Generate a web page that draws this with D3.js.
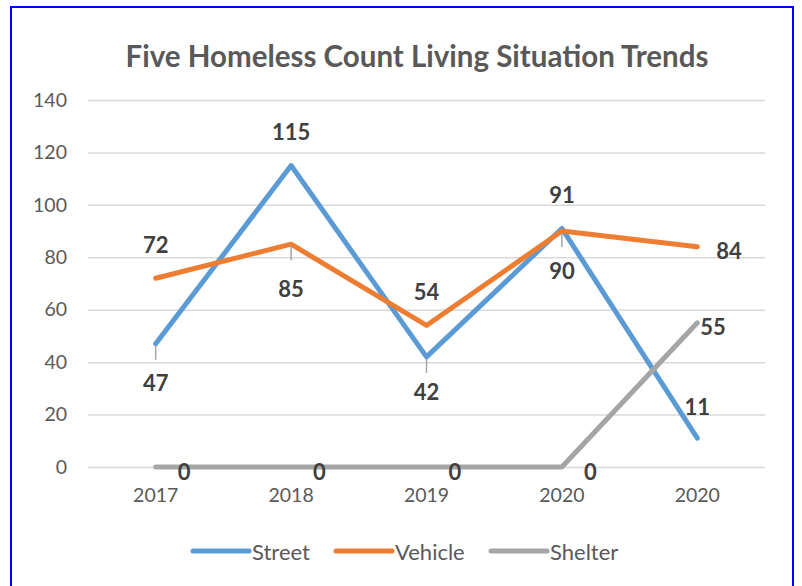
<!DOCTYPE html>
<html>
<head>
<meta charset="utf-8">
<script src="https://cdn.jsdelivr.net/npm/d3@7"></script>
<style>
  body { margin: 0; background: #fff; }
  svg { display: block; }
</style>
</head>
<body>
<div class="chart"></div>
<script>
// data
const years = ['2017', '2018', '2019', '2020', '2020'];
const street = [47, 115, 42, 91, 11];
const vehicle = [72, 85, 54, 90, 84];
const shelter = [0, 0, 0, 0, 55];
const yTicks = [0, 20, 40, 60, 80, 100, 120, 140];
const seriesNames = ['Street', 'Vehicle', 'Shelter'];

// where each data label sits relative to its point
const streetLabelPos = ['below', 'above', 'below', 'above', 'above'];
const vehicleLabelPos = ['above', 'below', 'above', 'below', 'right'];
const shelterLabelPos = ['right', 'right', 'right', 'right', 'right'];

const config = {
  width: 802,
  height: 586,
  left: 88,
  right: 765,
  top: 100,
  bottom: 467,
  colors: ['#5B9BD5', '#ED7D31', '#A5A5A5'],
  gridColor: '#D9D9D9',
  textColor: '#595959',
  labelColor: '#404040',
  font: 'Lato, "Open Sans", sans-serif'
};

const svg = d3.select('.chart').append('svg')
  .attr('width', config.width)
  .attr('height', config.height);

// blue frame
svg.append('rect')
  .attr('x', 11).attr('y', 7)
  .attr('width', 782).attr('height', 600)
  .attr('fill', 'none')
  .attr('stroke', '#0000FF')
  .attr('stroke-width', 2);

svg.append('text')
  .text('Five Homeless Count Living Situation Trends')
  .attr('x', 417).attr('y', 55)
  .attr('text-anchor', 'middle')
  .attr('dominant-baseline', 'central')
  .attr('font-family', config.font)
  .attr('font-weight', 'bold')
  .attr('font-size', '29.5px')
  .attr('fill', config.textColor);

const x = d3.scaleBand()
  .domain(d3.range(years.length))
  .range([config.left, config.right]);

const y = d3.scaleLinear()
  .domain([0, 140])
  .range([config.bottom, config.top]);

const xPos = (i) => x(i) + x.bandwidth() / 2;

// gridlines + y labels
const yAxis = svg.append('g')
  .attr('transform', `translate(${config.left},0)`)
  .call(d3.axisLeft(y).tickValues(yTicks).tickSize(-(config.right - config.left)).tickPadding(21));
yAxis.select('.domain').remove();
yAxis.selectAll('line').attr('stroke', config.gridColor).attr('stroke-width', 1.5);
yAxis.selectAll('text')
  .attr('font-family', config.font)
  .attr('font-size', '19.5px')
  .attr('fill', config.textColor);

// x labels
const xAxis = svg.append('g')
  .attr('transform', `translate(0,${config.bottom})`)
  .call(d3.axisBottom(x).tickFormat((i) => years[i]).tickSize(0).tickPadding(21));
xAxis.select('.domain').remove();
xAxis.selectAll('text')
  .attr('font-family', config.font)
  .attr('font-size', '19.5px')
  .attr('fill', config.textColor);

const series = [
  { name: seriesNames[0], values: street, pos: streetLabelPos, color: config.colors[0] },
  { name: seriesNames[1], values: vehicle, pos: vehicleLabelPos, color: config.colors[1] },
  { name: seriesNames[2], values: shelter, pos: shelterLabelPos, color: config.colors[2] }
];

const line = d3.line()
  .x((d, i) => xPos(i))
  .y((d) => y(d));

svg.append('g').selectAll('path')
  .data(series)
  .enter().append('path')
  .attr('d', (d) => line(d.values))
  .attr('fill', 'none')
  .attr('stroke', (d) => d.color)
  .attr('stroke-width', 5)
  .attr('stroke-linecap', 'round')
  .attr('stroke-linejoin', 'round');

// data labels
const labelData = [];
series.forEach((s) => {
  s.values.forEach((v, i) => {
    labelData.push({ value: v, x: xPos(i), y: y(v), pos: s.pos[i], shelter: s.name === 'Shelter' });
  });
});

const labels = svg.append('g');

labels.selectAll('line')
  .data(labelData.filter((d) => d.pos === 'below'))
  .enter().append('line')
  .attr('x1', (d) => d.x).attr('x2', (d) => d.x)
  .attr('y1', (d) => d.y + 2).attr('y2', (d) => d.y + 16)
  .attr('stroke', '#A6A6A6')
  .attr('stroke-width', 1.5);

labels.selectAll('text')
  .data(labelData)
  .enter().append('text')
  .text((d) => d.value)
  .attr('x', (d) => {
    if (d.pos === 'right') return d.shelter && d.value === 0 ? d.x + 22 : d.x + (d.shelter ? 3 : 19);
    return d.x;
  })
  .attr('y', (d) => {
    if (d.pos === 'above') return d.y - (d.value === 11 ? 32 : 34);
    if (d.pos === 'below') return d.y + (d.value === 85 ? 44 : d.value === 42 ? 35 : 39);
    return d.y + 4;
  })
  .attr('text-anchor', (d) => d.pos === 'right' ? 'start' : 'middle')
  .attr('dominant-baseline', 'central')
  .attr('font-family', config.font)
  .attr('font-weight', 'bold')
  .attr('font-size', '22px')
  .attr('fill', config.labelColor);

// legend
const legendX = [193, 336, 491];
const legend = svg.append('g').selectAll('g')
  .data(series)
  .enter().append('g')
  .attr('transform', (d, i) => `translate(${legendX[i]},551)`);
legend.append('line')
  .attr('x1', 0).attr('x2', 56)
  .attr('stroke', (d) => d.color)
  .attr('stroke-width', 5)
  .attr('stroke-linecap', 'round');
legend.append('text')
  .text((d) => d.name)
  .attr('x', 59)
  .attr('dominant-baseline', 'central')
  .attr('font-family', config.font)
  .attr('font-size', '22px')
  .attr('fill', config.textColor);
</script>
</body>
</html>
